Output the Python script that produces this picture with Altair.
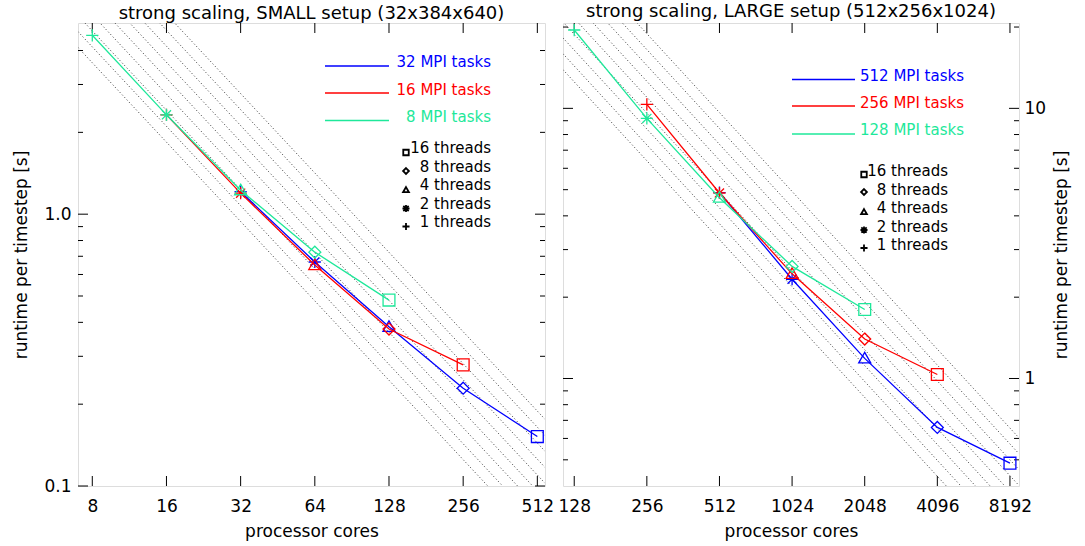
import altair as alt
import pandas as pd

FONT = "DejaVu Sans"
BLUE = "#0000ff"
RED = "#ff0000"
GREEN = "#1ee89a"

# ---------------- data: SMALL setup (32x384x640) ----------------
small_xticks = [8, 16, 32, 64, 128, 256, 512]
small_ymajor = [0.1, 1.0]
small_yminor = [0.2, 0.3, 0.4, 0.5, 0.6, 0.7, 0.8, 0.9, 2, 3, 4]
small_blue_cores = [32, 64, 128, 256, 512]
small_blue_runtime = [1.21, 0.667, 0.385, 0.229, 0.152]
small_red_cores = [16, 32, 64, 128, 256]
small_red_runtime = [2.32, 1.195, 0.65, 0.378, 0.279]
small_green_cores = [8, 16, 32, 64, 128]
small_green_runtime = [4.55, 2.32, 1.225, 0.725, 0.483]
small_tasks = ["32 MPI tasks", "16 MPI tasks", "8 MPI tasks"]
small_refk = [27.1, 31.0, 35.5, 40.7, 46.6, 53.3, 61.1, 69.9, 80.1]

# ---------------- data: LARGE setup (512x256x1024) ----------------
large_xticks = [128, 256, 512, 1024, 2048, 4096, 8192]
large_ymajor = [1, 10]
large_yminor = [0.5, 0.6, 0.7, 0.8, 0.9, 2, 3, 4, 5, 6, 7, 8, 9, 20]
large_blue_cores = [512, 1024, 2048, 4096, 8192]
large_blue_runtime = [4.88, 2.33, 1.187, 0.659, 0.486]
large_red_cores = [256, 512, 1024, 2048, 4096]
large_red_runtime = [10.35, 4.86, 2.44, 1.40, 1.035]
large_green_cores = [128, 256, 512, 1024, 2048]
large_green_runtime = [19.5, 9.18, 4.67, 2.60, 1.80]
large_tasks = ["512 MPI tasks", "256 MPI tasks", "128 MPI tasks"]
large_refk = [1387, 1588, 1818, 2082, 2384, 2730, 3125, 3578, 4097]

threads = [1, 2, 4, 8, 16]
thread_legend = [16, 8, 4, 2, 1]
thread_text = ["16 threads", "8 threads", "4 threads", "2 threads", "1 threads"]
REF_EXP = 0.97

SHAPE = {
    16: "M -1 -1 L 1 -1 L 1 1 L -1 1 Z",
    8: "M 0 -1 L 1 0 L 0 1 L -1 0 Z",
    4: "M 0 -1 L 1 0.75 L -1 0.75 Z",
    2: "M 0 -1 L 0 1 M -1 0 L 1 0 M -0.75 -0.75 L 0.75 0.75 M -0.75 0.75 L 0.75 -0.75",
    1: "M -1 0 L 1 0 M 0 -1 L 0 1",
}
SIZE = {16: 121, 8: 90, 4: 130, 2: 140, 1: 150}
LEG_SIZE = {16: 30, 8: 34, 4: 34, 2: 50, 1: 50}

W_SMALL, W_LARGE, H = 467, 456, 463


def dummy():
    return pd.DataFrame({"d": [0]})


def panel(series, tasks, xdom, ydom, xticks, ymajor, yminor, refk, title,
          width, yorient, yfmt, leg):
    xs = alt.Scale(type="log", domain=xdom, nice=False)
    ys = alt.Scale(type="log", domain=ydom, nice=False)
    xaxis = alt.Axis(values=xticks, format="d", title="processor cores", ticks=False,
                     domain=False, grid=False, labelFont=FONT, labelFontSize=17,
                     titleFont=FONT, titleFontSize=17, titleFontWeight="normal",
                     labelColor="black", titleColor="black", labelPadding=12,
                     titlePadding=9, labelFlush=False, labelOverlap=False)
    if yorient == "left":
        yaxis = alt.Axis(orient="left", values=ymajor, format=yfmt,
                         title="runtime per timestep [s]", ticks=False, domain=False,
                         grid=False, labelFont=FONT, labelFontSize=17, titleFont=FONT,
                         titleFontSize=17, titleFontWeight="normal", labelColor="black",
                         titleColor="black", labelPadding=7, minExtent=34, maxExtent=34,
                         titlePadding=14, titleAngle=270, labelOverlap=False)
    else:
        yaxis = alt.Axis(orient="right", values=ymajor, format=yfmt,
                         title="runtime per timestep [s]", ticks=False, domain=False,
                         grid=False, labelFont=FONT, labelFontSize=17, titleFont=FONT,
                         titleFontSize=17, titleFontWeight="normal", labelColor="black",
                         titleColor="black", labelPadding=5, minExtent=27, maxExtent=27,
                         titlePadding=24, titleAngle=270, labelOverlap=False)

    def X(field):
        return alt.X(field, scale=xs, axis=xaxis)

    def Y(field):
        return alt.Y(field, scale=ys, axis=yaxis)

    layers = []

    # dotted ideal-scaling reference lines
    rows = []
    for k in refk:
        for c in xdom:
            rows.append({"k": k, "c": c, "t": k * c ** (-REF_EXP)})
    ref = pd.DataFrame(rows)
    layers.append(
        alt.Chart(ref).mark_line(color="#333333", strokeWidth=1, strokeDash=[1, 2.4], clip=True)
        .encode(x=X("c:Q"), y=Y("t:Q"), detail="k:N")
    )

    # inward tick marks (IDL style)
    tick_df = pd.DataFrame({"v": xticks})
    layers.append(
        alt.Chart(tick_df).mark_rule(color="black", strokeWidth=1)
        .encode(x=X("v:Q"), y=alt.value(H), y2=alt.value(H - 10))
    )
    layers.append(
        alt.Chart(tick_df).mark_rule(color="black", strokeWidth=1)
        .encode(x=X("v:Q"), y=alt.value(0), y2=alt.value(10))
    )
    ymaj_df = pd.DataFrame({"v": ymajor})
    ymin_df = pd.DataFrame({"v": yminor})
    for df, ln in ((ymaj_df, 10), (ymin_df, 5)):
        layers.append(
            alt.Chart(df).mark_rule(color="black", strokeWidth=1)
            .encode(y=Y("v:Q"), x=alt.value(0), x2=alt.value(ln))
        )
        layers.append(
            alt.Chart(df).mark_rule(color="black", strokeWidth=1)
            .encode(y=Y("v:Q"), x=alt.value(width - ln), x2=alt.value(width))
        )

    # data series
    thr_dom = [str(t) for t in threads]
    shape_scale = alt.Scale(domain=thr_dom, range=[SHAPE[t] for t in threads])
    size_scale = alt.Scale(domain=thr_dom, range=[SIZE[t] for t in threads])
    for cores, runtime, col in series:
        df = pd.DataFrame({"cores": cores, "runtime": runtime,
                           "thr": [str(t) for t in threads]})
        layers.append(
            alt.Chart(df).mark_line(color=col, strokeWidth=1.3)
            .encode(x=X("cores:Q"), y=Y("runtime:Q"))
        )
        layers.append(
            alt.Chart(df).mark_point(color=col, filled=False, strokeWidth=1.3, opacity=1)
            .encode(x=X("cores:Q"), y=Y("runtime:Q"),
                    shape=alt.Shape("thr:N", scale=shape_scale, legend=None),
                    size=alt.Size("thr:N", scale=size_scale, legend=None))
        )

    # legend: MPI tasks
    for i, (lab, (_, _, col)) in enumerate(zip(tasks, series)):
        layers.append(
            alt.Chart(dummy()).mark_rule(color=col, strokeWidth=1.3)
            .encode(x=alt.value(leg["lx0"]), x2=alt.value(leg["lx1"]),
                    y=alt.value(leg["ly"][i]))
        )
        layers.append(
            alt.Chart(dummy()).mark_text(text=lab, font=FONT, fontSize=15, color=col,
                                         align="right", baseline="middle")
            .encode(x=alt.value(leg["tx"]), y=alt.value(leg["ty"][i]))
        )
    # legend: threads
    for i, (t, lab) in enumerate(zip(thread_legend, thread_text)):
        layers.append(
            alt.Chart(dummy()).mark_point(shape=SHAPE[t], size=LEG_SIZE[t], filled=False,
                                          strokeWidth=1.8, color="black", opacity=1)
            .encode(x=alt.value(leg["mx"]), y=alt.value(leg["my"][i]))
        )
        layers.append(
            alt.Chart(dummy()).mark_text(text=lab, font=FONT, fontSize=15, color="black",
                                         align="right", baseline="middle")
            .encode(x=alt.value(leg["ttx"]), y=alt.value(leg["tty"][i]))
        )

    return alt.layer(*layers).properties(
        width=width, height=H,
        title=alt.TitleParams(text=title, font=FONT, fontSize=18, fontWeight="normal",
                              color="black", offset=0),
    )


small_leg = dict(lx0=247, lx1=311, ly=[43, 70, 97.5], tx=413, ty=[39, 67, 94],
                 mx=328, my=[129.5, 148, 167, 185.5, 203.5], ttx=413,
                 tty=[125, 144, 162, 181, 199])
large_leg = dict(lx0=229, lx1=292, ly=[56.5, 83, 111], tx=401, ty=[53, 80, 107],
                 mx=301, my=[151.5, 169, 189, 207, 225], ttx=385,
                 tty=[148, 167, 185, 204, 222])

left = panel(
    [(small_blue_cores, small_blue_runtime, BLUE),
     (small_red_cores, small_red_runtime, RED),
     (small_green_cores, small_green_runtime, GREEN)],
    small_tasks, [7, 550], [0.1, 5.05], small_xticks, small_ymajor, small_yminor,
    small_refk, "strong scaling, SMALL setup (32x384x640)", W_SMALL, "left", ".1f",
    small_leg)

right = panel(
    [(large_blue_cores, large_blue_runtime, BLUE),
     (large_red_cores, large_red_runtime, RED),
     (large_green_cores, large_green_runtime, GREEN)],
    large_tasks, [115, 8930], [0.4, 20.7], large_xticks, large_ymajor, large_yminor,
    large_refk, "strong scaling, LARGE setup (512x256x1024)", W_LARGE, "right", "d",
    large_leg)

chart = (
    alt.hconcat(left, right, spacing=18, bounds="flush")
    .properties(padding={"left": 11, "top": 2, "right": 5, "bottom": 2})
    .configure_view(stroke="black", strokeWidth=1.2)
    .configure(background="white")
)

chart.save("out.html", embed_options={"renderer": "svg", "actions": False})
